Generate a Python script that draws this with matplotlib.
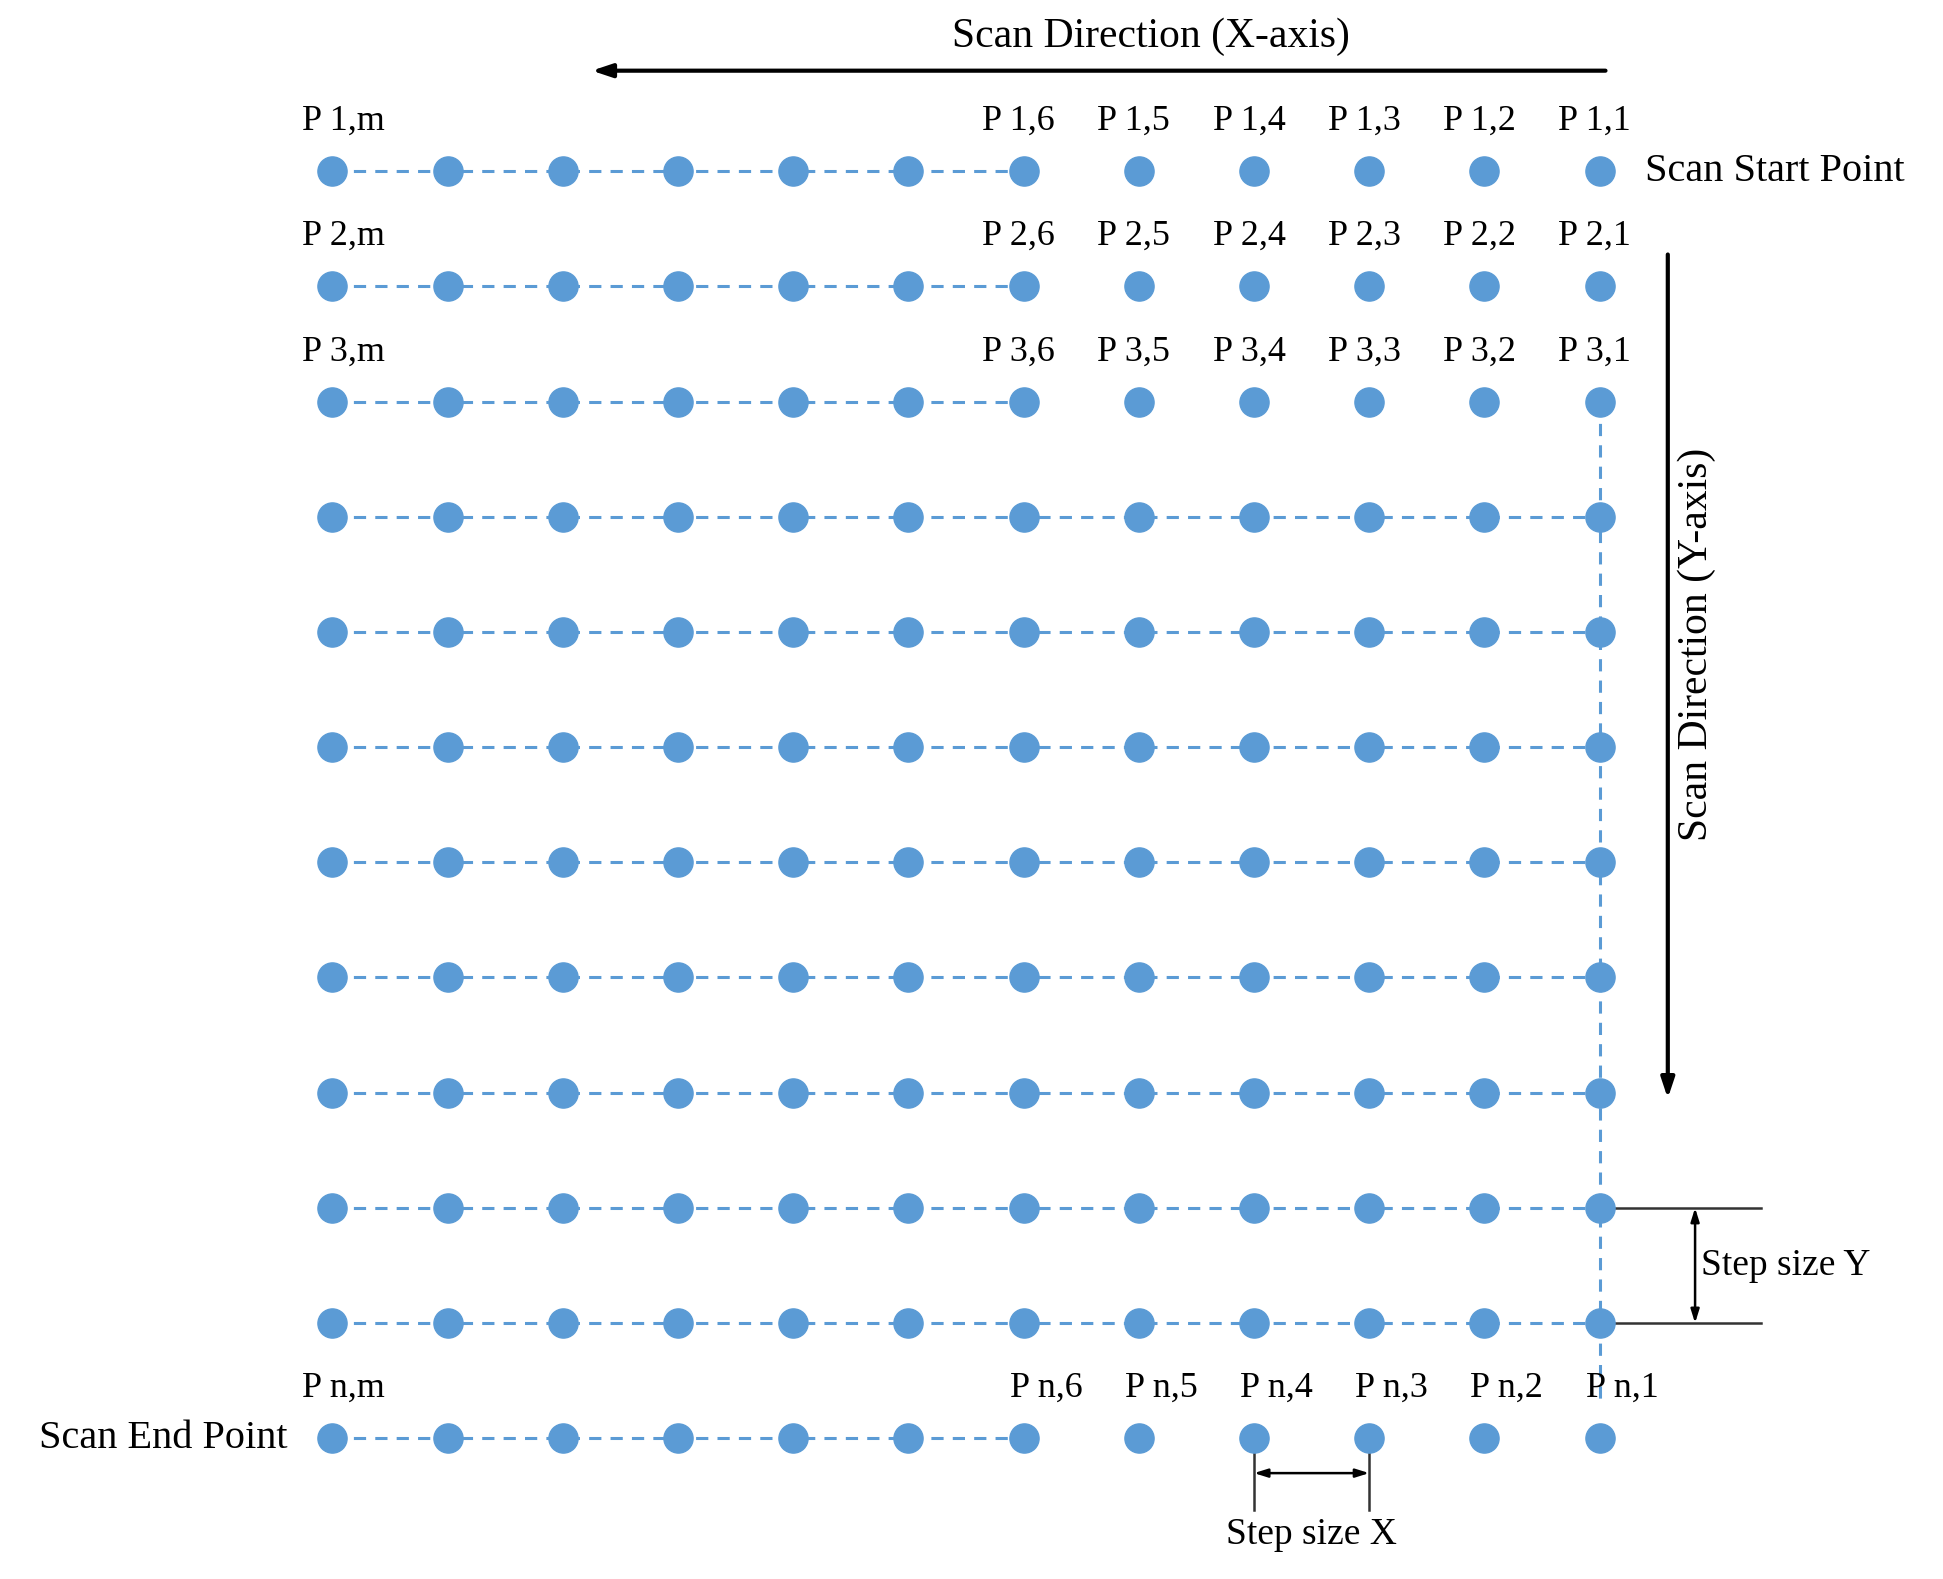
import matplotlib.pyplot as plt

plt.rcParams["font.family"] = ["Liberation Serif", "DejaVu Serif"]

# grid layout: 12 columns (1..6 shown, then up to m), 12 rows (1,2,3,...,n)
col_names = ["1", "2", "3", "4", "5", "6", "", "", "", "", "", "m"]
row_names = ["1", "2", "3", "", "", "", "", "", "", "", "", "n"]
labelled_cols = [0, 1, 2, 3, 4, 5, 11]
short_rows = [0, 1, 2, 11]  # rows where dashes only reach column 6

S = 1.24  # display -> pixel scale
X0, Y0, STEP = 1290 * S, 138 * S, 92.9 * S
BLUE = "#5b9bd5"
FS = 26


def cx(j):
    return X0 - j * STEP


def ry(i):
    return Y0 + i * STEP


fig = plt.figure(figsize=(19.43, 15.79), dpi=100)
ax = fig.add_axes([0, 0, 1, 1])
ax.set_xlim(0, 1943)
ax.set_ylim(1579, 0)
ax.axis("off")

n_rows, n_cols = len(row_names), len(col_names)
for i in range(n_rows):
    last = 5 if i in short_rows else 0
    ax.plot([cx(n_cols - 1), cx(last)], [ry(i), ry(i)], ls="--", color=BLUE, lw=2.2, dashes=(4, 3), zorder=1)
ax.plot([cx(0), cx(0)], [ry(2), ry(n_rows - 1) - 28 * S], ls="--", color=BLUE, lw=2.2, dashes=(4, 3), zorder=1)

for i in range(n_rows):
    xs = [cx(j) for j in range(n_cols)]
    ax.plot(xs, [ry(i)] * n_cols, "o", ms=21, color=BLUE, ls="none", zorder=2)

for i in short_rows:
    for j in labelled_cols:
        dx = 18 * S if i == n_rows - 1 else -4 * S
        if j == 11:
            dx = 9 * S
        ax.text(cx(j) + dx, ry(i) - 40 * S, f"P {row_names[i]},{col_names[j]}",
                ha="center", va="center", fontsize=FS)

ax.text(1327 * S, ry(0), "Scan Start Point", ha="left", va="center", fontsize=29)
ax.text(232 * S, ry(n_rows - 1), "Scan End Point", ha="right", va="center", fontsize=29)

# scan direction arrows
ax.annotate("", xy=(475 * S, 57 * S), xytext=(1297 * S, 57 * S),
            arrowprops=dict(arrowstyle="-|>,head_length=1.2,head_width=0.4", color="black", lw=3))
ax.text(928 * S, 30 * S, "Scan Direction (X-axis)", ha="center", va="center", fontsize=30)
ax.annotate("", xy=(1345 * S, 888 * S), xytext=(1345 * S, 203 * S),
            arrowprops=dict(arrowstyle="-|>,head_length=1.2,head_width=0.4", color="black", lw=3))
ax.text(1368 * S, 520 * S, "Scan Direction (Y-axis)", ha="center", va="center", rotation=90, fontsize=30)

# step size Y
for i in (n_rows - 3, n_rows - 2):
    ax.plot([cx(0), 1420 * S], [ry(i), ry(i)], color="#333333", lw=1.8, zorder=0)
ax.annotate("", xy=(1367 * S, ry(n_rows - 3)), xytext=(1367 * S, ry(n_rows - 2)),
            arrowprops=dict(arrowstyle="<|-|>,head_length=0.8,head_width=0.25", color="black", lw=1.8, shrinkA=0, shrinkB=0))
ax.text(1372 * S, (ry(n_rows - 3) + ry(n_rows - 2)) / 2, "Step size Y", ha="left", va="center", fontsize=27)

# step size X
yn = ry(n_rows - 1)
for j in (3, 2):
    ax.plot([cx(j), cx(j)], [yn, 1218 * S], color="#333333", lw=1.8, zorder=0)
ax.annotate("", xy=(cx(3), 1188 * S), xytext=(cx(2), 1188 * S),
            arrowprops=dict(arrowstyle="<|-|>,head_length=0.8,head_width=0.25", color="black", lw=1.8, shrinkA=0, shrinkB=0))
ax.text((cx(3) + cx(2)) / 2, 1238 * S, "Step size X", ha="center", va="center", fontsize=27)

fig.savefig("out.png", dpi=100, facecolor="white")
